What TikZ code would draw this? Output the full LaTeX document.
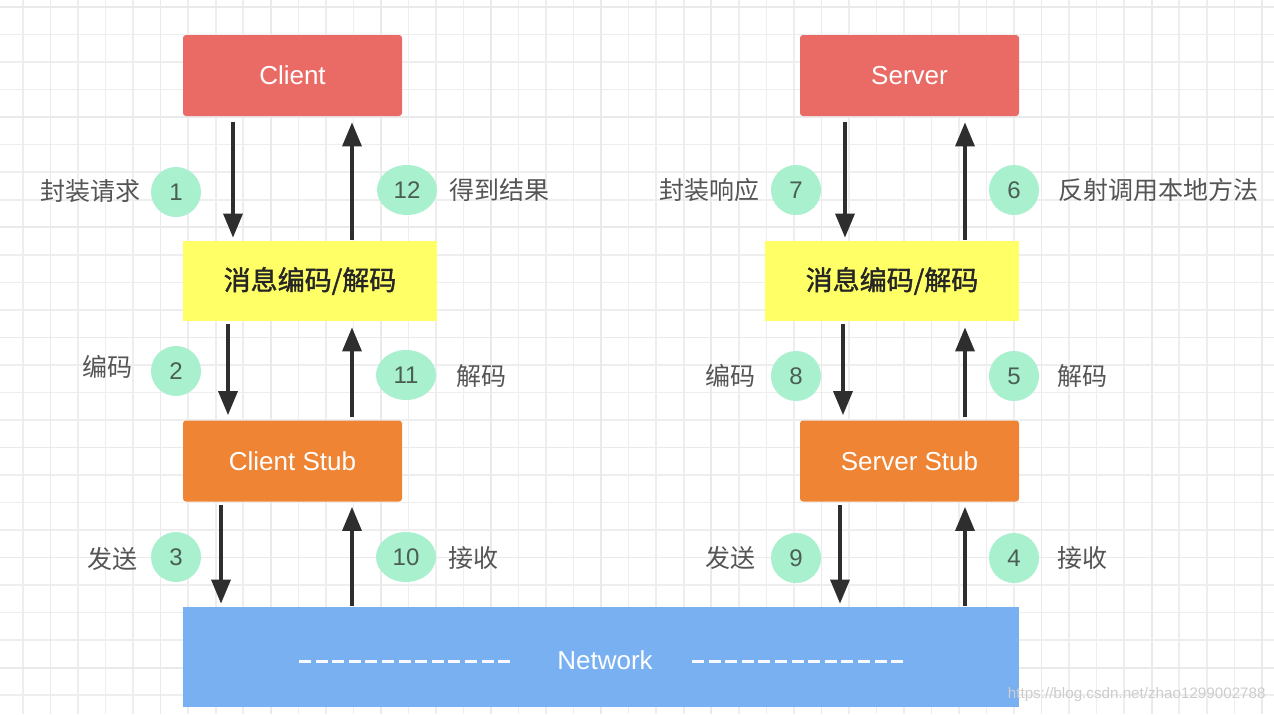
\documentclass[tikz,border=0pt]{standalone}
\usepackage{fontspec}
\setmainfont{Liberation Sans}
\newfontfamily\cjk{Noto Sans CJK SC}[AutoFakeBold=1.5]
\usetikzlibrary{arrows.meta,calc,shapes.geometric}
\definecolor{cred}{HTML}{EA6B66}
\definecolor{cyel}{HTML}{FFFF66}
\definecolor{corg}{HTML}{EE8434}
\definecolor{cblue}{HTML}{78B0F2}
\definecolor{cgreen}{HTML}{A9F0CF}
\definecolor{cnum}{HTML}{4A5E54}
\definecolor{clab}{HTML}{555555}
\definecolor{carr}{HTML}{2E2E2E}
\definecolor{cgrid}{HTML}{EEEEEE}
\definecolor{cgridm}{HTML}{EAEAEA}
\definecolor{cwm}{HTML}{CDCDCD}
\begin{document}
\begin{tikzpicture}[x=0.5pt,y=-0.5pt,
  box/.style={rectangle, rounded corners=1.5pt, minimum width=109.5pt, minimum height=40.5pt, inner sep=0pt, text=white, font=\fontsize{13}{15}\selectfont},
  ybox/.style={rectangle, fill=cyel, minimum width=127pt, minimum height=40pt, inner sep=0pt, text=black!85, font=\cjk\bfseries\fontsize{13.5}{16}\selectfont},
  num/.style={ellipse, fill=cgreen, minimum width=25pt, minimum height=25pt, inner sep=0pt, text=cnum, font=\fontsize{12}{14}\selectfont},
  num2/.style={num, minimum width=30pt},
  lab/.style={text=clab, inner sep=0pt, font=\cjk\fontsize{12.5}{15}\selectfont},
  arr/.style={draw=carr, line width=1.7pt, -{Triangle[width=9.5pt,length=12pt]}},
  netdash/.style={draw=white!94!cblue, line width=1.5pt, dash pattern=on 6pt off 2.3pt},
]
\useasboundingbox (0,0) rectangle (1274,714);
\fill[white] (0,0) rectangle (1274,714);
% grid
\foreach \k in {0,...,45}{\pgfmathsetmacro\gx{23+27.53*\k}\draw[cgrid, line width=0.8pt] (\gx,0) -- (\gx,714);}
\foreach \k in {0,...,25}{\pgfmathsetmacro\gy{7+27.53*\k}\draw[cgrid, line width=0.8pt] (0,\gy) -- (1274,\gy);}
\foreach \k in {1,5,...,45}{\pgfmathsetmacro\gx{23+27.53*\k}\draw[cgridm, line width=0.8pt] (\gx,0) -- (\gx,714);}
\foreach \k in {0,4,...,24}{\pgfmathsetmacro\gy{7+27.53*\k}\draw[cgridm, line width=0.8pt] (0,\gy) -- (1274,\gy);}

% boxes
\node[box, fill=cred] (client) at (292.5,75.5) {Client};
\node[box, fill=cred] (server) at (909.5,75.5) {Server};
\node[ybox] (yl) at (310,281) {消息编码/解码};
\node[ybox] (yr) at (892,281) {消息编码/解码};
\node[box, fill=corg] (cstub) at (292.5,461) {Client Stub};
\node[box, fill=corg] (sstub) at (909.5,461) {Server Stub};
\node[rectangle, fill=cblue, minimum width=418pt, minimum height=50pt, inner sep=0pt] (net) at (601,657) {};
\node[text=white, inner sep=0pt, font=\fontsize{13}{15}\selectfont] (netlab) at (605,660) {Network};
\draw[netdash] (299,661) -- (510,661);
\draw[netdash] (692,661) -- (903,661);

% left arrows
\draw[arr] ($(client.south -| 233,0)+(0,6)$) -- ($(yl.north -| 233,0)+(0,-3)$);
\draw[arr] ($(yl.north -| 352,0)+(0,-1)$) -- ($(client.south -| 352,0)+(0,6)$);
\draw[arr] ($(yl.south -| 228,0)+(0,3)$) -- ($(cstub.north -| 228,0)+(0,-5)$);
\draw[arr] ($(cstub.north -| 352,0)+(0,-3)$) -- ($(yl.south -| 352,0)+(0,6)$);
\draw[arr] ($(cstub.south -| 221,0)+(0,3)$) -- ($(net.north -| 221,0)+(0,-3)$);
\draw[arr] ($(net.north -| 352,0)+(0,-1)$) -- ($(cstub.south -| 352,0)+(0,5)$);
% right arrows
\draw[arr] ($(server.south -| 845,0)+(0,6)$) -- ($(yr.north -| 845,0)+(0,-3)$);
\draw[arr] ($(yr.north -| 965,0)+(0,-1)$) -- ($(server.south -| 965,0)+(0,6)$);
\draw[arr] ($(yr.south -| 843,0)+(0,3)$) -- ($(sstub.north -| 843,0)+(0,-5)$);
\draw[arr] ($(sstub.north -| 965,0)+(0,-3)$) -- ($(yr.south -| 965,0)+(0,6)$);
\draw[arr] ($(sstub.south -| 840,0)+(0,3)$) -- ($(net.north -| 840,0)+(0,-3)$);
\draw[arr] ($(net.north -| 965,0)+(0,-1)$) -- ($(sstub.south -| 965,0)+(0,5)$);

% numbers
\node[num] (n1) at (176,192) {1};
\node[num2] (n12) at (407,190) {12};
\node[num] (n2) at (176,371) {2};
\node[num2] (n11) at (406,375) {11};
\node[num] (n3) at (176,557) {3};
\node[num2] (n10) at (406,557) {10};
\node[num] (n7) at (796,190) {7};
\node[num] (n6) at (1014,190) {6};
\node[num] (n8) at (796,376) {8};
\node[num] (n5) at (1014,376) {5};
\node[num] (n9) at (796,558) {9};
\node[num] (n4) at (1014,558) {4};

% labels
\node[lab] (l1) at (90,191) {封装请求};
\node[lab] (l12) at (499,190) {得到结果};
\node[lab] (l2) at (107,367) {编码};
\node[lab] (l11) at (481,376) {解码};
\node[lab] (l3) at (112,559) {发送};
\node[lab] (l10) at (473,558) {接收};
\node[lab] (l7) at (709,190) {封装响应};
\node[lab] (l6) at (1158,190) {反射调用本地方法};
\node[lab] (l8) at (730,376) {编码};
\node[lab] (l5) at (1082,376) {解码};
\node[lab] (l9) at (730,558) {发送};
\node[lab] (l4) at (1082,558) {接收};

% watermark
\node[anchor=east, text=cwm, inner sep=0pt, font=\fontsize{7.6}{9}\selectfont] (wm) at (1266,695) {https://blog.csdn.net/zhao1299002788};
\end{tikzpicture}
\end{document}
